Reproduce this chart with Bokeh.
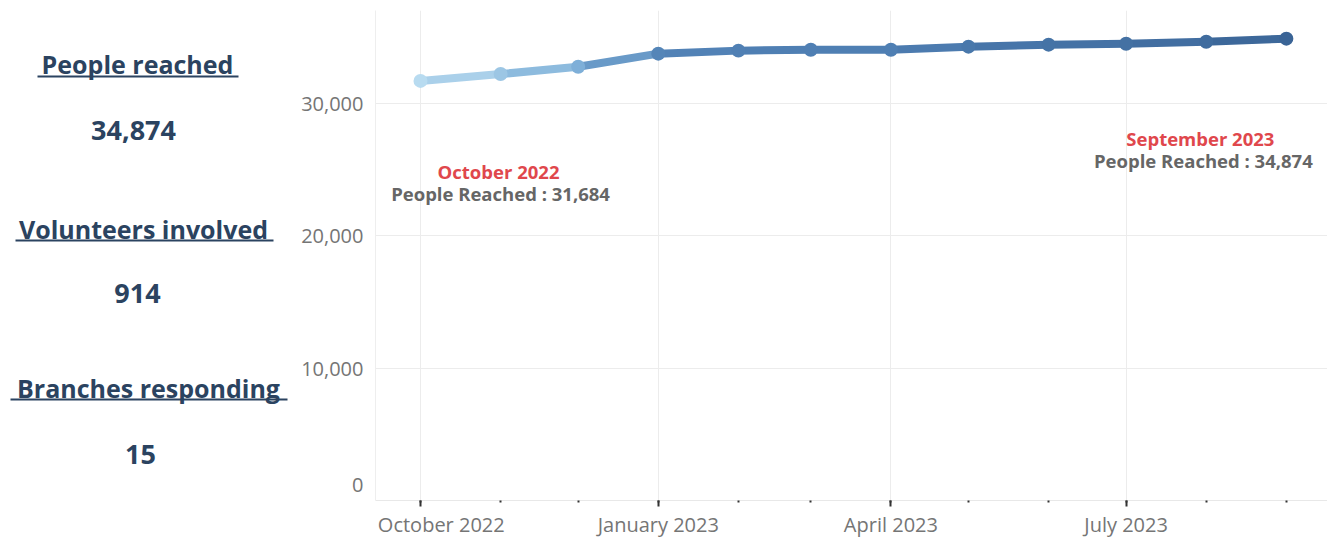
import pandas as pd
from bokeh.plotting import figure
from bokeh.models import (ColumnDataSource, Range1d, FixedTicker, DatetimeTickFormatter,
                          NumeralTickFormatter, Label)
from bokeh.layouts import row
from bokeh.embed import file_html
from bokeh.resources import INLINE
from bokeh.core.properties import value

# ---------------- data ----------------
months = ["2022-10-01", "2022-11-01", "2022-12-01", "2023-01-01", "2023-02-01", "2023-03-01",
          "2023-04-01", "2023-05-01", "2023-06-01", "2023-07-01", "2023-08-01", "2023-09-01"]
people_reached = [31684, 32200, 32750, 33740, 33970, 34040, 34040, 34270, 34420, 34490, 34640, 34874]
quarter_ticks = ["2022-10-01", "2023-01-01", "2023-04-01", "2023-07-01"]
y_ticks = [0, 10000, 20000, 30000]
stat_titles = ["People reached", "Volunteers involved", "Branches responding"]
stat_values = ["34,874", "914", "15"]

# ---------------- styles ----------------
FONT = "Open Sans"
NAVY = "#2b4360"
RED = "#e0474c"
GREY_TXT = "#666666"
AXIS_TXT = "#757575"
NBSP = "\u00a0"
stops = [(0.0, (184, 219, 240)), (0.33, (127, 176, 216)), (0.64, (84, 133, 184)),
         (0.75, (78, 126, 178)), (1.0, (58, 100, 150))]


def grad(t):
    for (t0, c0), (t1, c1) in zip(stops[:-1], stops[1:]):
        if t <= t1:
            f = 0 if t1 == t0 else (t - t0) / (t1 - t0)
            return "#%02x%02x%02x" % tuple(int(round(a + (b - a) * f)) for a, b in zip(c0, c1))
    return "#%02x%02x%02x" % stops[-1][1]


dates = list(pd.to_datetime(months))
vmin, vmax = min(people_reached), max(people_reached)
tvals = [(v - vmin) / (vmax - vmin) for v in people_reached]
pt_colors = [grad(t) for t in tvals]
seg_colors = [grad((a + b) / 2) for a, b in zip(tvals[:-1], tvals[1:])]

pts = ColumnDataSource(dict(x=dates, y=people_reached, c=pt_colors))
segs = ColumnDataSource(dict(x0=dates[:-1], x1=dates[1:], y0=people_reached[:-1],
                             y1=people_reached[1:], c=seg_colors))

# ---------------- line chart ----------------
x_start = pd.Timestamp("2022-09-13 14:00")
p = figure(x_axis_type="datetime", frame_width=952, frame_height=490,
           min_border_left=82, min_border_right=0, min_border_top=10, min_border_bottom=0,
           x_range=Range1d(x_start, pd.Timestamp("2023-09-16 22:00")),
           y_range=Range1d(0, 37000),
           output_backend="svg", toolbar_location=None)
p.outline_line_color = None
p.background_fill_color = "white"

p.segment("x0", "y0", "x1", "y1", source=segs, line_color="c", line_width=8, line_cap="round")
p.scatter("x", "y", source=pts, size=14, fill_color="c", line_color=None)

to_ms = lambda s: pd.Timestamp(s).timestamp() * 1000
p.xaxis.ticker = FixedTicker(ticks=[to_ms(s) for s in quarter_ticks],
                             minor_ticks=[to_ms(s) for s in months])
fmt = "%B %Y"
p.xaxis.formatter = DatetimeTickFormatter(months=fmt, days=fmt, years=fmt, hours=fmt,
                                          minutes=fmt, seconds=fmt, milliseconds=fmt,
                                          microseconds=fmt, minsec=fmt, hourmin=fmt)
# first x label nudged right and "0" label nudged up, as in the original
first_tick = pd.Timestamp(quarter_ticks[0])
p.xaxis.major_label_overrides = {to_ms(quarter_ticks[0]): NBSP * 8 + first_tick.strftime(fmt)}
p.xaxis.major_tick_in = 0
p.xaxis.major_tick_out = 6
p.xaxis.major_tick_line_color = "#333333"
p.xaxis.major_tick_line_width = 2
p.xaxis.minor_tick_in = 0
p.xaxis.minor_tick_out = 2
p.xaxis.minor_tick_line_color = "#333333"
p.xaxis.minor_tick_line_width = 2
p.xaxis.axis_line_color = "#e8e8e8"
p.xaxis.major_label_standoff = 4

p.yaxis.ticker = FixedTicker(ticks=y_ticks)
p.yaxis.formatter = NumeralTickFormatter(format="0,0")
p.yaxis.major_label_overrides = {y_ticks[0]: "{:,}\n{}".format(y_ticks[0], NBSP)}
p.yaxis.major_tick_out = 0
p.yaxis.major_tick_in = 0
p.yaxis.minor_tick_out = 0
p.yaxis.minor_tick_in = 0
p.yaxis.axis_line_color = "#eeeeee"
p.yaxis.major_label_standoff = 12

for ax in (p.xaxis, p.yaxis):
    ax.major_label_text_font = FONT
    ax.major_label_text_font_size = "20px"
    ax.major_label_text_color = AXIS_TXT

p.xgrid.grid_line_color = "#ececec"
p.ygrid.grid_line_color = "#ececec"

# annotations for first and last month
first_name = dates[0].strftime("%B %Y")
last_name = dates[-1].strftime("%B %Y")
ann = [
    (dates[0], people_reached[0], first_name, RED, 78, -91),
    (dates[0], people_reached[0], "People Reached : {:,}".format(people_reached[0]), GREY_TXT, 80, -113),
    (dates[-1], people_reached[-1], last_name, RED, -86, -100),
    (dates[-1], people_reached[-1], "People Reached : {:,}".format(people_reached[-1]), GREY_TXT, -83, -122),
]
for x, y, txt, col, dx, dy in ann:
    p.add_layout(Label(x=x, y=y, x_offset=dx, y_offset=dy, text=txt, text_color=col,
                       text_font=FONT, text_font_style="bold", text_font_size="18.5px",
                       text_align="center", text_baseline="middle"))

# ---------------- left stats panel ----------------
left = figure(frame_width=293, frame_height=520, x_range=Range1d(0, 293), y_range=Range1d(531, 11),
              x_axis_type=None, y_axis_type=None, min_border=0,
              output_backend="svg", toolbar_location=None)
left.outline_line_color = None
left.xgrid.visible = False
left.ygrid.visible = False

title_pos = [(137, 64), (143, 229), (148, 388)]
value_pos = [(133, 131), (137, 294), (140, 455)]
underline = [(37, 238, 77), (15, 273, 241), (10, 287, 400)]

left.text(x=[t[0] for t in title_pos], y=[t[1] for t in title_pos], text=stat_titles,
          text_font=value(FONT), text_font_style="bold", text_font_size="25px",
          text_color=NAVY, text_align="center", text_baseline="middle")
left.text(x=[t[0] for t in value_pos], y=[t[1] for t in value_pos], text=stat_values,
          text_font=value(FONT), text_font_style="bold", text_font_size="27px",
          text_color=NAVY, text_align="center", text_baseline="middle")
left.segment(x0=[u[0] for u in underline], x1=[u[1] for u in underline],
             y0=[u[2] for u in underline], y1=[u[2] for u in underline],
             line_color=NAVY, line_width=2)

layout = row(left, p)
open("out.html", "w").write(file_html(layout, INLINE))
